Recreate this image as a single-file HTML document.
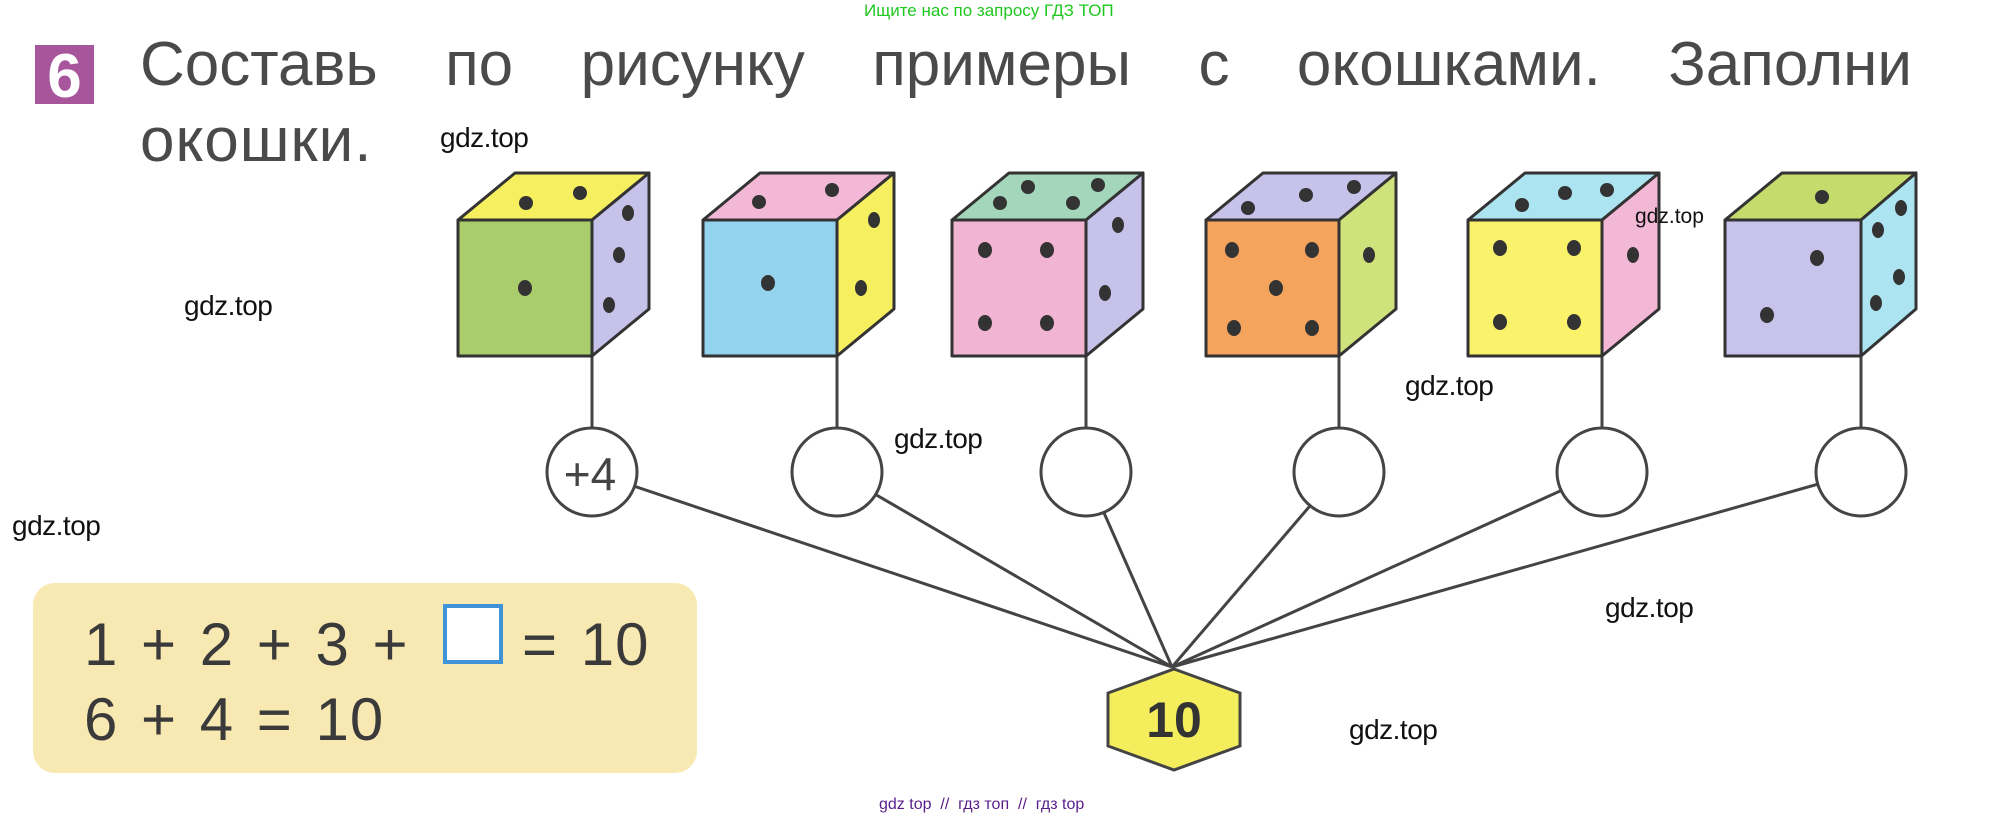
<!DOCTYPE html>
<html><head><meta charset="utf-8"><style>
html,body{margin:0;padding:0;background:#fff;}
body{width:1990px;height:821px;position:relative;overflow:hidden;font-family:"Liberation Sans",sans-serif;}
.t{position:absolute;white-space:nowrap;}
.g{font-size:28px;color:#111;letter-spacing:-0.5px;}
</style></head><body>
<svg width="1990" height="821" style="position:absolute;left:0;top:0">
<rect x="35" y="45" width="59" height="59" fill="#a8569c"/>
<text x="64.5" y="97" font-family="Liberation Sans" font-weight="bold" font-size="62" fill="#fff" text-anchor="middle">6</text>
<rect x="33" y="583" width="664" height="190" rx="22" fill="#f8e8b2"/>
<rect x="445" y="606" width="56" height="56" fill="#fff" stroke="#3f93d6" stroke-width="4"/>
<text x="84" y="665" font-family="Liberation Sans" font-size="60" fill="#3a3a3a" word-spacing="5" letter-spacing="1" xml:space="preserve">1 + 2 + 3 +</text>
<text x="522" y="665" font-family="Liberation Sans" font-size="60" fill="#3a3a3a" word-spacing="5" letter-spacing="1">= 10</text>
<text x="84" y="740" font-family="Liberation Sans" font-size="60" fill="#3a3a3a" word-spacing="5" letter-spacing="1">6 + 4 = 10</text>
<g stroke="#444" stroke-width="3" fill="none">
<line x1="592" y1="356" x2="592" y2="472"/><line x1="837" y1="356" x2="837" y2="472"/>
<line x1="1086" y1="356" x2="1086" y2="472"/><line x1="1339" y1="356" x2="1339" y2="472"/>
<line x1="1602" y1="356" x2="1602" y2="472"/><line x1="1861" y1="356" x2="1861" y2="472"/>
<line x1="592" y1="472" x2="1172" y2="667"/><line x1="837" y1="472" x2="1172" y2="667"/>
<line x1="1086" y1="472" x2="1172" y2="667"/><line x1="1339" y1="472" x2="1172" y2="667"/>
<line x1="1602" y1="472" x2="1172" y2="667"/><line x1="1861" y1="472" x2="1172" y2="667"/>
</g>
<g fill="#fff" stroke="#444" stroke-width="3">
<ellipse cx="592" cy="472" rx="45" ry="44"/><ellipse cx="837" cy="472" rx="45" ry="44"/>
<ellipse cx="1086" cy="472" rx="45" ry="44"/><ellipse cx="1339" cy="472" rx="45" ry="44"/>
<ellipse cx="1602" cy="472" rx="45" ry="44"/><ellipse cx="1861" cy="472" rx="45" ry="44"/>
</g>
<text x="590" y="490" font-family="Liberation Sans" font-size="46" fill="#444" text-anchor="middle">+4</text>
<polygon points="1174,669 1240,693 1240,746 1174,770 1108,746 1108,693" fill="#f4ee5c" stroke="#444" stroke-width="3"/>
<text x="1174" y="737" font-family="Liberation Sans" font-weight="bold" font-size="50" fill="#333" text-anchor="middle">10</text>
<g stroke="#333" stroke-width="3" stroke-linejoin="round">
<polygon points="458,220 515,173 649,173 592,220" fill="#f6ef60"/>
<polygon points="592,220 649,173 649,309 592,356" fill="#c6c2ea"/>
<rect x="458" y="220" width="134" height="136" fill="#a9cd6b"/>
<polygon points="703,220 760,173 894,173 837,220" fill="#f3b8d6"/>
<polygon points="837,220 894,173 894,309 837,356" fill="#f6ef60"/>
<rect x="703" y="220" width="134" height="136" fill="#93d3ee"/>
<polygon points="952,220 1009,173 1143,173 1086,220" fill="#a3d6bb"/>
<polygon points="1086,220 1143,173 1143,309 1086,356" fill="#c6c2ea"/>
<rect x="952" y="220" width="134" height="136" fill="#f2b4d3"/>
<polygon points="1206,220 1263,173 1396,173 1339,220" fill="#c6c2ea"/>
<polygon points="1339,220 1396,173 1396,309 1339,356" fill="#cfe27c"/>
<rect x="1206" y="220" width="133" height="136" fill="#f4a45c"/>
<polygon points="1468,220 1525,173 1659,173 1602,220" fill="#ace4f2"/>
<polygon points="1602,220 1659,173 1659,309 1602,356" fill="#f3b8d6"/>
<rect x="1468" y="220" width="134" height="136" fill="#faf26a"/>
<polygon points="1725,220 1782,173 1916,173 1861,220" fill="#c5db6c"/>
<polygon points="1861,220 1916,173 1916,309 1861,356" fill="#ace4f2"/>
<rect x="1725" y="220" width="136" height="136" fill="#c7c3ea"/>
</g>
<g fill="#333">
<ellipse cx="525" cy="288" rx="7" ry="8"/>
<ellipse cx="526" cy="203" rx="7" ry="7"/><ellipse cx="580" cy="193" rx="7" ry="7"/>
<ellipse cx="628" cy="213" rx="6" ry="8"/><ellipse cx="619" cy="255" rx="6" ry="8"/><ellipse cx="609" cy="305" rx="6" ry="8"/>
<ellipse cx="768" cy="283" rx="7" ry="8"/>
<ellipse cx="759" cy="202" rx="7" ry="7"/><ellipse cx="832" cy="190" rx="7" ry="7"/>
<ellipse cx="874" cy="220" rx="6" ry="8"/><ellipse cx="861" cy="288" rx="6" ry="8"/>
<ellipse cx="1028" cy="187" rx="7" ry="7"/><ellipse cx="1098" cy="185" rx="7" ry="7"/><ellipse cx="1000" cy="203" rx="7" ry="7"/><ellipse cx="1073" cy="203" rx="7" ry="7"/>
<ellipse cx="985" cy="250" rx="7" ry="8"/><ellipse cx="1047" cy="250" rx="7" ry="8"/><ellipse cx="985" cy="323" rx="7" ry="8"/><ellipse cx="1047" cy="323" rx="7" ry="8"/>
<ellipse cx="1118" cy="225" rx="6" ry="8"/><ellipse cx="1105" cy="293" rx="6" ry="8"/>
<ellipse cx="1248" cy="208" rx="7" ry="7"/><ellipse cx="1306" cy="195" rx="7" ry="7"/><ellipse cx="1354" cy="187" rx="7" ry="7"/>
<ellipse cx="1232" cy="250" rx="7" ry="8"/><ellipse cx="1312" cy="250" rx="7" ry="8"/><ellipse cx="1276" cy="288" rx="7" ry="8"/><ellipse cx="1234" cy="328" rx="7" ry="8"/><ellipse cx="1312" cy="328" rx="7" ry="8"/>
<ellipse cx="1369" cy="255" rx="6" ry="8"/>
<ellipse cx="1522" cy="205" rx="7" ry="7"/><ellipse cx="1565" cy="193" rx="7" ry="7"/><ellipse cx="1607" cy="190" rx="7" ry="7"/>
<ellipse cx="1500" cy="248" rx="7" ry="8"/><ellipse cx="1574" cy="248" rx="7" ry="8"/><ellipse cx="1500" cy="322" rx="7" ry="8"/><ellipse cx="1574" cy="322" rx="7" ry="8"/>
<ellipse cx="1633" cy="255" rx="6" ry="8"/>
<ellipse cx="1822" cy="197" rx="7" ry="7"/>
<ellipse cx="1817" cy="258" rx="7" ry="8"/><ellipse cx="1767" cy="315" rx="7" ry="8"/>
<ellipse cx="1901" cy="208" rx="6" ry="8"/><ellipse cx="1878" cy="230" rx="6" ry="8"/><ellipse cx="1899" cy="277" rx="6" ry="8"/><ellipse cx="1876" cy="303" rx="6" ry="8"/>
</g>
</svg>
<div class="t" style="left:140px;top:28px;width:1772px;font-size:62px;color:#4a4a4a;text-align:justify;text-align-last:justify;white-space:normal;line-height:74px;">Составь по рисунку примеры с окошками. Заполни</div>
<div class="t" style="left:140px;top:104px;font-size:62px;color:#4a4a4a;line-height:74px;letter-spacing:1px;">окошки.</div>
<div class="t" style="left:864px;top:1px;font-size:17px;color:#1ec81e;">Ищите нас по запросу ГДЗ ТОП</div>
<div class="t g" style="left:440px;top:122px;">gdz.top</div>
<div class="t g" style="left:184px;top:290px;">gdz.top</div>
<div class="t g" style="left:12px;top:510px;">gdz.top</div>
<div class="t g" style="left:894px;top:423px;">gdz.top</div>
<div class="t g" style="left:1405px;top:370px;">gdz.top</div>
<div class="t g" style="left:1605px;top:592px;">gdz.top</div>
<div class="t g" style="left:1349px;top:714px;">gdz.top</div>
<div class="t" style="left:1635px;top:205px;font-size:21px;color:#111;">gdz.top</div>
<div class="t" style="left:879px;top:796px;font-size:16px;color:#5a1e8c;">gdz top&nbsp; //&nbsp; гдз топ&nbsp; //&nbsp; гдз top</div>
</body></html>
